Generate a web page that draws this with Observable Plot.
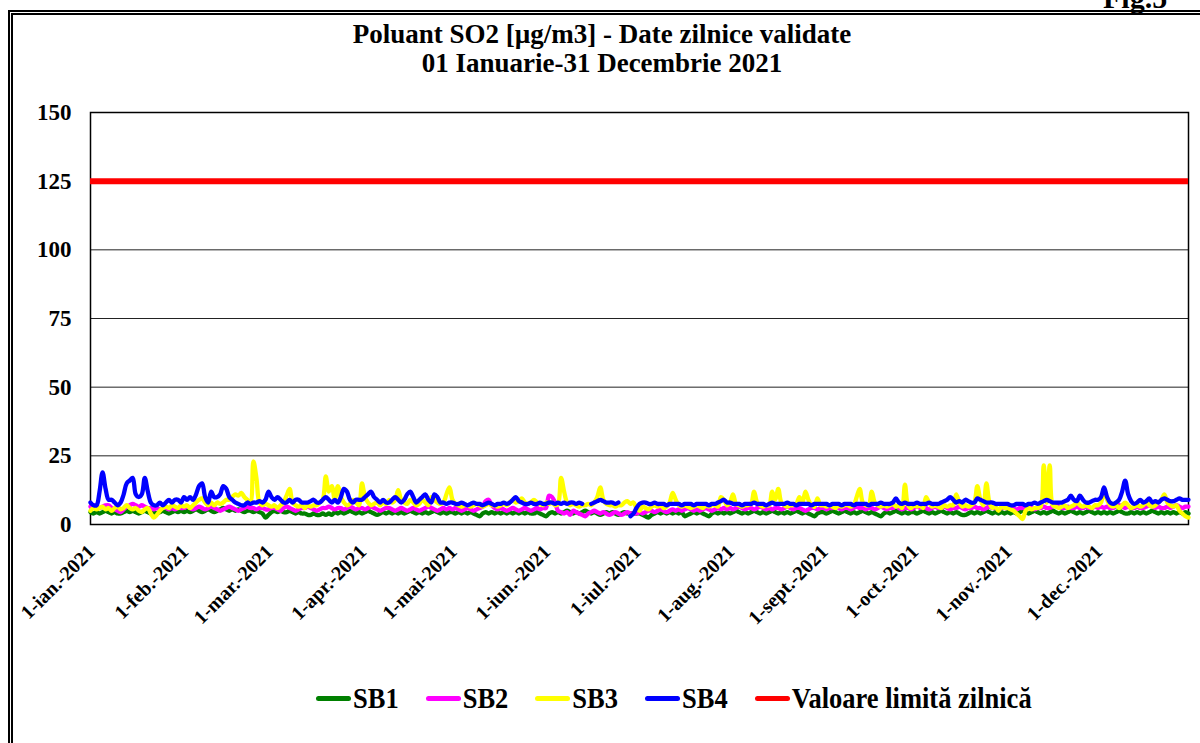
<!DOCTYPE html>
<html>
<head>
<meta charset="utf-8">
<script src="https://cdn.jsdelivr.net/npm/d3@7"></script>
<script src="https://cdn.jsdelivr.net/npm/@observablehq/plot@0.6"></script>
<style>
  html, body { margin: 0; padding: 0; background: #fff; }
  body { width: 1200px; height: 743px; overflow: hidden; position: relative; font-family: "Liberation Serif", "Times New Roman", serif; font-weight: bold; color: #000; }
  #border { position: absolute; left: 8px; top: 10px; width: 1230px; height: 780px; border: 5px double #000; box-sizing: border-box; }
  #fig { position: absolute; left: 1103px; top: -17px; font-size: 30px; line-height: 1; }
  #title { position: absolute; left: 0; top: 20px; width: 1204px; text-align: center; font-size: 27px; line-height: 29px; }
  #chart { position: absolute; left: 0; top: 80px; }
  #legend { position: absolute; left: 316px; top: 680px; display: flex; align-items: center; gap: 27px; height: 36px; }
  .item { display: flex; align-items: center; }
  .sw { width: 35px; height: 5px; border-radius: 3px; margin-right: 2px; }
  .lab { font-size: 26.5px; display: inline-block; transform: scaleY(1.08); line-height: 1; }
</style>
</head>
<body>
<div id="border"></div>
<div id="fig">Fig.5</div>
<div id="title">Poluant SO2 [µg/m3] - Date zilnice validate<br>01 Ianuarie-31 Decembrie 2021</div>
<div id="chart"></div>
<div id="legend"></div>
<script>
// ---- data (daily values, µg/m3) ----
const stationNames = ["SB1", "SB2", "SB3", "SB4"];
const stationColors = ["#008000", "#ff00ff", "#ffff00", "#0000ff"];
const limitName = "Valoare limită zilnică";
const limitColor = "#ff0000";
const LIMIT = 125;
const yTicks = [0, 25, 50, 75, 100, 125, 150];
const tickLabels = ["1-ian.-2021", "1-feb.-2021", "1-mar.-2021", "1-apr.-2021", "1-mai-2021", "1-iun.-2021",
  "1-iul.-2021", "1-aug.-2021", "1-sept.-2021", "1-oct.-2021", "1-nov.-2021", "1-dec.-2021"];

const SB1 = [
  4.5,4,4.5,4,4.5,5,4.5,4,4.5,4,4,4.5,5,4.5,5,4.5,4,4.5,5,4.5,4,4.5,4,4.5,5,4.5,4,4.5,5,4.5,5,
  4.5,5,4.5,5,5.5,5,4.5,5,5.5,5,4.5,5,5.5,6,5.5,5,5.5,5,5.5,5,4.5,5,5,4.5,5,4.5,4,2.5,
  3.5,4.5,5,4.5,5,4.5,4.5,5,4.5,4,4.5,4,4,3.5,3.5,4,3.5,3.5,4,3.5,4,3.5,4.5,4,4.5,4,4.5,5,4.5,4,4.5,
  4,4.5,5,4.5,4,3.5,4,4.5,4,4.5,4,4.5,4,4.5,4,4.5,5,4.5,4,4.5,4,4.5,4,4.5,5,4.5,4,4.5,4,4.5,
  4.5,4,4.5,4,4.5,4,4.5,4,3.5,3,4,4.5,4,4.5,4,4.5,4,4.5,4,4.5,4,4.5,4,4.5,4,4.5,4,4,4.5,4,3.5,
  3,4,4.5,4,4.5,4,4.5,5,4.5,4,4.5,4,4.5,5,4.5,4,4.5,4,3.5,4,4.5,4,4.5,4,3.5,4,4.5,4,4,4,
  4,4,3.5,3,2.5,3.5,4,4.5,4,4.5,4,4.5,4,4.5,4,4.5,3,3.5,4,4.5,4,4.5,4,3.5,3,4,4.5,4,4.5,4,4.5,
  4,4.5,5,4.5,4,4.5,4,4.5,5,4.5,4,4.5,4,4.5,5,4.5,4,4.5,4,4.5,4,4.5,5,4.5,4,4.5,4,3.5,3,4,4.5,
  4.5,4,4.5,5,4.5,4,4.5,5,4.5,4,4.5,4,4.5,5,4.5,4,4.5,4,3.5,3,4,4.5,4,4.5,5,4.5,4,4.5,4,4.5,
  4.5,4,4.5,5,4.5,4,4.5,4,4.5,5,4.5,4,4.5,4,4.5,4,3.5,3.5,4,4.5,4,4.5,4,4.5,5,4.5,4,4.5,4,4.5,4,
  4.5,4,4.5,4,4.5,5,4.5,4,4.5,5,4.5,4,4.5,4,4.5,5,4.5,4,4.5,4,4.5,5,4.5,4,4.5,4,4.5,5,4.5,4,
  4.5,4,4.5,4,4.5,4,4.5,5,4.5,4,4,4.5,4,4.5,4,4.5,4,4.5,5,4.5,4,4.5,4,4.5,4,4.5,4,4.5,4,4.5,4
];
const SB2 = [
  6.5,7,6.5,6,6.5,7,7,6,5.5,5,4.5,5.5,6.5,7,7.5,7,6.5,7,6.5,6,6,5.5,6,5.5,6,6,5.5,6,5.5,6,6,
  6,6.5,6,5.5,6,6.5,6,5.5,6,6.5,6,5.5,5,5.5,6,6.5,6,5.5,5,5.5,6,6.5,6,6,5.5,6,6,5.5,
  5.5,6,6,5.5,5,6,6.5,6,5.5,5,5.5,6,6,6.5,6,5.5,5,5.5,6,6,6.5,6,5.5,6,6,5.5,6,6.5,6,5.5,6,
  6,5.5,6,6.5,6,5.5,5,5.5,6,6,5.5,5,5.5,6,5.5,5,5.5,6,5.5,5,5.5,6,6.5,6,5.5,5,5.5,6,5.5,6,
  5.5,6,5.5,5,5.5,6,5.5,5,5.5,6,6.5,8.5,9,7,6,5.5,6,5.5,5,5.5,6,5.5,5,5.5,6,5.5,5,5.5,6,5.5,6,
  6,10.5,10,8,5,4.5,4,4.5,3.5,5,4.5,4,3.5,3,4,4.5,5,4.5,4,4.5,4,3.5,4,4.5,4,3.5,4,4.5,4,4,
  4,4.5,4,4.5,5,5,4.5,5,5.5,5,4.5,5,5.5,5,5.5,5,5.5,6,5.5,5,5.5,5,5.5,6,5.5,5,5.5,6,5.5,6,5.5,
  6,5.5,6,6.5,6,5.5,6,6,5.5,6,6.5,6,5.5,6,5.5,6,6,5.5,6,6.5,6,5.5,6,6,5.5,5,5.5,6,6,5.5,6,
  6,5.5,6,6,6.5,6,5.5,6,6,5.5,6,6.5,6,6,5.5,6,6,5.5,6,6.5,6,5.5,6,6,6.5,6,5.5,6,6,5.5,
  6,6.5,6,6.5,6,5.5,6,6.5,6,6,6.5,6,5.5,6,6,6.5,6,5.5,6,6,6.5,6,6,5.5,6,6.5,6,6,5.5,6,6,
  6,6.5,6,5.5,6,6,6.5,6,6,5.5,6,6,6.5,6,6,6.5,7,6.5,6,6,6.5,6,6,6.5,6,6,6.5,6,6,6.5,
  6,6.5,6,6.5,6,6,6.5,7,6.5,6,6.5,6,6,6.5,6,6,6.5,7,6.5,6,6.5,6,6,6.5,6,6.5,7,6.5,6,6.5,6.5
];
const SB3 = [
  5,6,5.5,6,6.5,5.5,6,5,6,6.5,5.5,6,7,6,5.5,6,5,4.5,5.5,6,4,2.5,3.5,5,6,6.5,6,7,6.5,6,7,
  6.5,7,6,7,8,9,9.5,8,7,8,7,8,7.5,8,9,9,10,11,10.5,11.5,10,9,8,23,17,8,7,7.5,
  7,6.5,7,6,7,8,10.5,13,8,7,6.5,7,6,7,6.5,7,7,8,9,17.5,12,14,9,14,10,8,7,7.5,9,8,7,
  15,10,8,7,7.5,8,7,8,7.5,9,8,9,12.5,9,8,7.5,9,8,7,7.5,9,8,7,10,9,8,7.5,8,11,13.5,
  9,7.5,7,6.5,7,7,6.5,7,7.5,7,6.5,7,7.5,7,7,6.5,7,7.5,7,8,9,8,8.5,9.5,8,7.5,8,9,8,7.5,7,
  8,7.5,8,7,7.5,17,12,8,7,7.5,7,6.5,7,7,7.5,7,8,10,13.5,9,7.5,7,7,6.5,7,7,8,8.5,7.5,8,
  6,5,6.5,6,5.5,6.5,7,6.5,7,6,6.5,8,11.5,9,7,6.5,7,6.5,6,6.5,7,6.5,6,7,6.5,7,7,6.5,10,9,7,
  8,11,7.5,7,6.5,7,7,7.5,12,8,7,6.5,7,7,12,9,13,8,7,6.5,7,7,7.5,10,8,12,9,7,6.5,9.5,7,
  7,6.5,7,6.5,6,7,6.5,7,7,6.5,7,10,13,8,7,7,12,8,7,6.5,7,6.5,7,7.5,6.5,7,6,14.5,7,6,
  7,6.5,7,6,10,8,6.5,7,6.5,6,7,6.5,7,7,11,8,6.5,7,6.5,7,8,14,9,7,15,8,6,6.5,5,6.5,6,
  6,5.5,5,4,3,2,5,6,5.5,6,6,6.5,21.5,8,21.5,7,6.5,6,6.5,7,6,6.5,7,8,7,6.5,7,6.5,6,7,
  7,8,13,9,7,6.5,7,6,7,8,7,6,6.5,7,6.5,7,8,7,6.5,7,8,9,11,8,7,6.5,7,5,4,3,2.5
];
const SB4 = [
  8,7,7,12,19,13,9,9,8,7,8,11,15,16,17,11,10,11,17,12,8,7,7,8,7,8,9,8,9,9,8,
  10,9,10,9,11,14,15,10,8,12,10,10,11,14,13,10,9,8,7.5,7,7,8,7.5,8,8,8.5,8,9,
  12,10,9,10,9,8,8,9,8,9,9,8,8,8,8.5,9,8,8,9,10,9,8,9,8,10,13,12,9,8,9,9,
  9,10,11,12,10,9,8,9,8,8,9,10,9,8,9,11,12,10,8,9,10,11,9,8,11,10,8,8,7.5,8,
  8,7.5,7.5,8,7.5,7,7.5,8,7.5,7.5,7,7.5,8,7.5,7,7.5,7.5,8,7.5,8,9,10,8.5,8,7.5,7.5,8,7.5,7.5,8,7.5,
  7.5,8,8,7.5,8,7.5,8,7.5,8,8,7.5,8,7.5,null,null,7.5,8,8.5,9,8.5,8,8,8,7.5,8,null,null,null,3,4,
  6,7.5,8,8,7.5,7.5,8,7.5,7.5,7.5,7,7.5,7.5,7.5,7.5,7,7.5,7.5,7.5,7,7.5,7.5,7.5,7.5,7,7.5,7.5,8,8.5,9,8,
  8,7.5,7.5,7.5,7,7.5,7.5,7.5,8,7.5,7.5,7.5,7,7.5,8,7.5,7.5,7.5,7.5,8,7.5,7.5,7,7.5,7.5,7.5,7.5,7,7.5,7.5,7.5,
  7.5,7.5,7,7.5,7.5,7.5,7,7.5,7.5,7.5,7,7.5,7.5,7.5,7.5,7,7.5,7.5,7.5,8,7.5,7.5,7.5,8,9.5,8,7.5,8,7.5,7.5,
  7.5,8,7.5,7.5,7.5,8,7.5,7.5,7.5,8,8.5,9,10,9,8,8.5,8,9,8.5,8,8,9.5,9,8.5,8,8,8,7.5,7.5,7.5,7.5,
  7.5,7,7,7.5,7.5,7.5,7,7.5,7.5,8,7.5,8,8.5,9,8.5,8,8,8,8,8.5,9,10.5,9,8.5,10.5,9,8,8,8.5,9,
  9,10,13.5,10,8,7.5,8,9,12,16,11,8.5,7.5,8,9,8,8.5,9.5,8,8.5,8,9,9.5,9,8.5,8.5,9,9.5,9,9,9
];

// ---- build tables ----
const DAY = 864e5;
const START = Date.UTC(2021, 0, 1);
const dates = d3.range(365).map(i => new Date(START + i * DAY));
const tickDates = d3.range(12).map(m => new Date(Date.UTC(2021, m, 1)));
const seriesValues = [SB1, SB2, SB3, SB4];
const rows = stationNames.flatMap((name, k) =>
  seriesValues[k].map((v, i) => ({date: dates[i], value: v, station: name})));

const chart = Plot.plot({
  width: 1200,
  height: 560,
  marginTop: 32,
  marginLeft: 90,
  marginRight: 12,
  marginBottom: 116,
  style: {fontFamily: "'Liberation Serif', 'Times New Roman', serif", fontWeight: "bold", background: "transparent", overflow: "visible", color: "#000"},
  x: {type: "utc", domain: [dates[0], dates[364]], axis: null, label: null},
  y: {domain: [0, 150], axis: null, label: null},
  color: {domain: stationNames, range: stationColors},
  marks: [
    Plot.gridY(yTicks.filter(t => t > 0 && t < 150), {stroke: "#222", strokeOpacity: 1, strokeWidth: 1}),
    Plot.frame({stroke: "#000", strokeWidth: 1.5}),
    Plot.line(rows, {x: "date", y: "value", z: "station", stroke: "station", strokeWidth: 4.3, curve: "catmull-rom", strokeLinejoin: "round", strokeLinecap: "round"}),
    Plot.ruleY([LIMIT], {stroke: limitColor, strokeWidth: 6}),
    Plot.axisY({ticks: yTicks, tickSize: 0, tickPadding: 19, fontSize: 23, fontWeight: "bold", tickFormat: d => String(d), label: null}),
    Plot.text(tickDates, {x: d => d, frameAnchor: "bottom", text: (d, i) => tickLabels[i], rotate: -45,
      textAnchor: "end", lineAnchor: "middle", dx: 1, dy: 24, fontSize: 20, fontWeight: "bold", fill: "#000"})
  ]
});
document.getElementById("chart").appendChild(chart);

// ---- legend ----
const legendItems = stationNames.map((n, i) => ({name: n, color: stationColors[i]}))
  .concat([{name: limitName, color: limitColor}]);
const legend = document.getElementById("legend");
for (const it of legendItems) {
  const item = document.createElement("div");
  item.className = "item";
  const sw = document.createElement("span");
  sw.className = "sw";
  sw.style.background = it.color;
  const lab = document.createElement("span");
  lab.className = "lab";
  lab.textContent = it.name;
  item.appendChild(sw);
  item.appendChild(lab);
  legend.appendChild(item);
}
</script>
</body>
</html>
